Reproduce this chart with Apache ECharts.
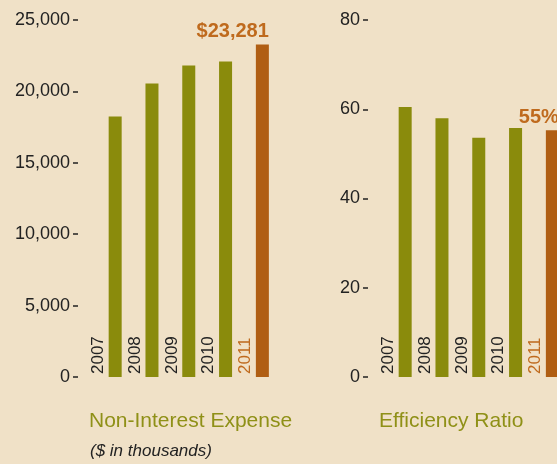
<!DOCTYPE html>
<html>
<head>
<meta charset="utf-8">
<script src="https://cdn.jsdelivr.net/npm/echarts@6/dist/echarts.min.js"></script>
<style>
  html, body { margin: 0; padding: 0; background: #f0e1c7; }
  #chart { width: 557px; height: 464px; }
</style>
</head>
<body>
<div id="chart"></div>
<script>
// data
const years = ['2007', '2008', '2009', '2010', '2011'];
const expenseValues = [18250, 20560, 21820, 22100, 23281];
const efficiencyValues = [60.5, 58.0, 53.6, 55.8, 55.3];
const expenseTicks = [0, 5000, 10000, 15000, 20000, 25000];
const efficiencyTicks = [0, 20, 40, 60, 80];

const olive = '#8a8b0c';
const orange = '#b05e13';
const labelOrange = '#bf6a1d';
const ink = '#222';
const font = "'Liberation Sans', Arial, sans-serif";

let chart = echarts.init(document.getElementById('chart'));

function yearAxis(idx) {
  return {
    type: 'category',
    gridIndex: idx,
    data: years.map((y, i) => i === years.length - 1
      ? { value: y, textStyle: { color: labelOrange } }
      : y),
    axisLine: { show: false },
    axisTick: { show: false },
    axisLabel: {
      inside: true, rotate: 90, margin: 3,
      fontSize: 17, fontFamily: font, color: ink
    }
  };
}

function valueAxis(idx, ticks) {
  return {
    type: 'value',
    gridIndex: idx,
    min: ticks[0],
    max: ticks[ticks.length - 1],
    interval: ticks[1] - ticks[0],
    offset: 2,
    axisLine: { show: false },
    splitLine: { show: false },
    axisTick: { show: true, length: 5, lineStyle: { color: ink, width: 1.5 } },
    axisLabel: {
      margin: 8, fontSize: 18, fontFamily: font, color: ink,
      formatter: v => v.toLocaleString('en-US')
    }
  };
}

function barSeries(idx, values, fmt) {
  const last = values.length - 1;
  return [
    // empty slot so the bar sits right of the year label
    {
      type: 'bar', xAxisIndex: idx, yAxisIndex: idx,
      data: values.map(() => 0), barWidth: 13, barGap: '158%',
      itemStyle: { color: 'transparent' }, silent: true
    },
    {
      type: 'bar', xAxisIndex: idx, yAxisIndex: idx,
      barWidth: 13, barGap: '158%', clip: false,
      data: values.map((v, i) => i === last ? {
        value: v,
        itemStyle: { color: orange },
        label: {
          show: true, position: ['100%', -3], align: 'right', verticalAlign: 'bottom',
          fontSize: 20, fontWeight: 'bold', fontFamily: font, color: labelOrange,
          formatter: fmt
        }
      } : v),
      itemStyle: { color: olive }
    }
  ];
}

chart.setOption({
  animation: false,
  backgroundColor: '#f0e1c7',
  title: [
    { text: 'Non-Interest Expense', left: 89, top: 411, padding: 0,
      textStyle: { fontSize: 21, fontWeight: 'normal', fontFamily: font, color: '#8f9017' } },
    { text: '($ in thousands)', left: 90, top: 443, padding: 0,
      textStyle: { fontSize: 17, fontWeight: 'normal', fontStyle: 'italic', fontFamily: font, color: ink } },
    { text: 'Efficiency Ratio', left: 379, top: 411, padding: 0,
      textStyle: { fontSize: 21, fontWeight: 'normal', fontFamily: font, color: '#8f9017' } }
  ],
  grid: [
    { left: 80, top: 20, width: 184, height: 357 },
    { left: 370, top: 20, width: 184, height: 357 }
  ],
  xAxis: [yearAxis(0), yearAxis(1)],
  yAxis: [valueAxis(0, expenseTicks), valueAxis(1, efficiencyTicks)],
  series: [
    ...barSeries(0, expenseValues, p => '$' + p.value.toLocaleString('en-US')),
    ...barSeries(1, efficiencyValues, p => Math.round(p.value) + '%')
  ]
});
</script>
</body>
</html>
